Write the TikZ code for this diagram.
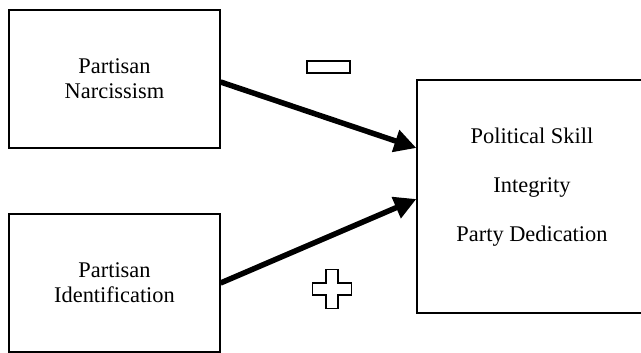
\documentclass[tikz,border=0pt]{standalone}
\usepackage{fontspec}
\setmainfont{Liberation Serif}
\usetikzlibrary{arrows.meta,calc}

\begin{document}
\begin{tikzpicture}[
	x=1pt, y=-1pt,
	>={Triangle[length=22pt,width=22pt]},
	box/.style={draw, line width=1.2pt, align=center, minimum width=211pt, minimum height=138pt, font=\fontsize{22.4}{25}\selectfont},
	effect/.style={->, line width=5.5pt},
	sign/.style={draw, line width=1.8pt, fill=white}
]
\clip (0,0) rectangle (641,353);
\node[box] (narc) at (114.5,79) {Partisan\\Narcissism};
\node[box] (ident) at (114.5,283) {Partisan\\Identification};
\node[box, minimum width=240pt, minimum height=233pt] (out) at (537,196.5) {};
\node[align=center, font=\fontsize{22.4}{49}\selectfont] (outtext) at (532,187) {Political Skill\\Integrity\\Party Dedication};

\draw[effect] ($(narc.east)+(0,3)$) -- ($(out.west)+(0,-48.5)$);
\draw[effect] (ident.east) -- ($(out.west)+(0,2.5)$);

% signs of the effects
\node[sign, inner sep=0pt, minimum width=43pt, minimum height=12pt] (minus) at (328.5,67) {};
\coordinate (plus) at (332,289);
\draw[sign] (plus) ++(-6,-19.5) -- ++(12,0) -- ++(0,13.5) -- ++(13.5,0) -- ++(0,12) -- ++(-13.5,0)
	-- ++(0,13.5) -- ++(-12,0) -- ++(0,-13.5) -- ++(-13.5,0) -- ++(0,-12) -- ++(13.5,0) -- cycle;
\end{tikzpicture}
\end{document}
